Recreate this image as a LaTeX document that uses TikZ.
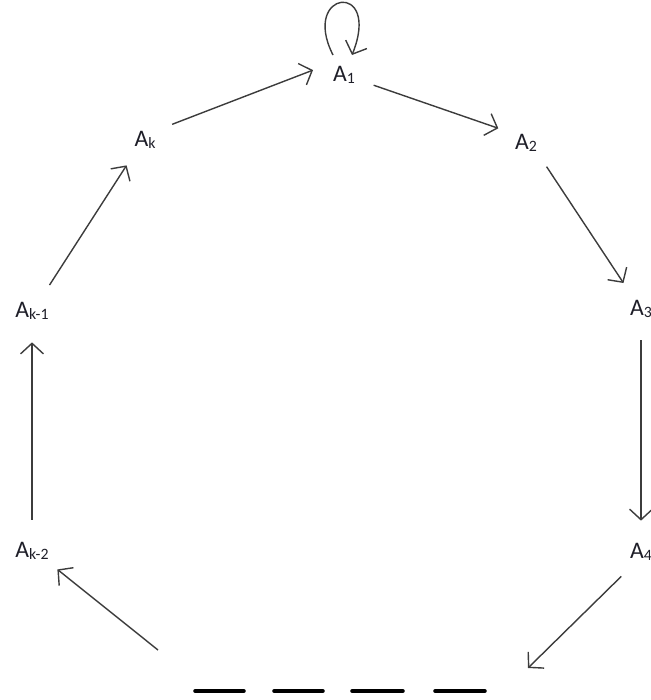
\documentclass[tikz,border=0pt]{standalone}
\usepackage{fontspec}
\setmainfont{Carlito}
\usetikzlibrary{arrows.meta,calc}
\definecolor{linegray}{RGB}{60,60,60}
\definecolor{labelink}{RGB}{30,30,40}
\newcommand{\lsub}[1]{{\fontsize{9}{10}\selectfont\raisebox{-1.5pt}{#1}}}

\begin{document}
\begin{tikzpicture}[x=0.02cm, y=-0.02cm, >={Straight Barb[length=6pt,width=13pt]},
    state/.style={circle, inner sep=0pt, minimum size=1.24cm, font=\fontsize{13.5}{15}\selectfont, text=labelink},
    link/.style={->, linegray, line width=0.8pt}]
    \useasboundingbox (0,0) rectangle (650,700);
    \node[state] (a1) at (344,75) {A\lsub{1}};
    \node[state] (ak) at (145,140) {A\lsub{k}};
    \node[state] (a2) at (526,143) {A\lsub{2}};
    \node[state] (akm1) at (32,311) {A\lsub{k-1}};
    \node[state] (a3) at (641,309) {A\lsub{3}};
    \node[state] (akm2) at (32,551) {A\lsub{k-2}};
    \node[state] (a4) at (641,552) {A\lsub{4}};
    \coordinate (gapl) at (158,650);
    \coordinate (gapr) at (528,668);
    % cycle
    \draw[link] ($(a1)+(-11,-20)$) .. controls +(-33,-65) and +(30,-75) .. ($(a1)+(8,-20)$);
    \draw[link] (ak.30) -- (a1.171);
    \draw[link] (a1.341) -- (a2.152);
    \draw[link] (a2.311) -- (a3.124);
    \draw[link] (a3.south) -- (a4.north);
    \draw[link] (a4.231) -- (gapr);
    \draw[link] (gapl) -- (akm2.324);
    \draw[link] (akm2.north) -- (akm1.south);
    \draw[link] (akm1.56) -- (ak.234);
    % the missing states
    \foreach \xa/\xb in {195/244, 274/323, 352/403, 435/485}
      \draw[line width=2pt, line cap=round] (\xa,691) -- (\xb,691);
\end{tikzpicture}
\end{document}
